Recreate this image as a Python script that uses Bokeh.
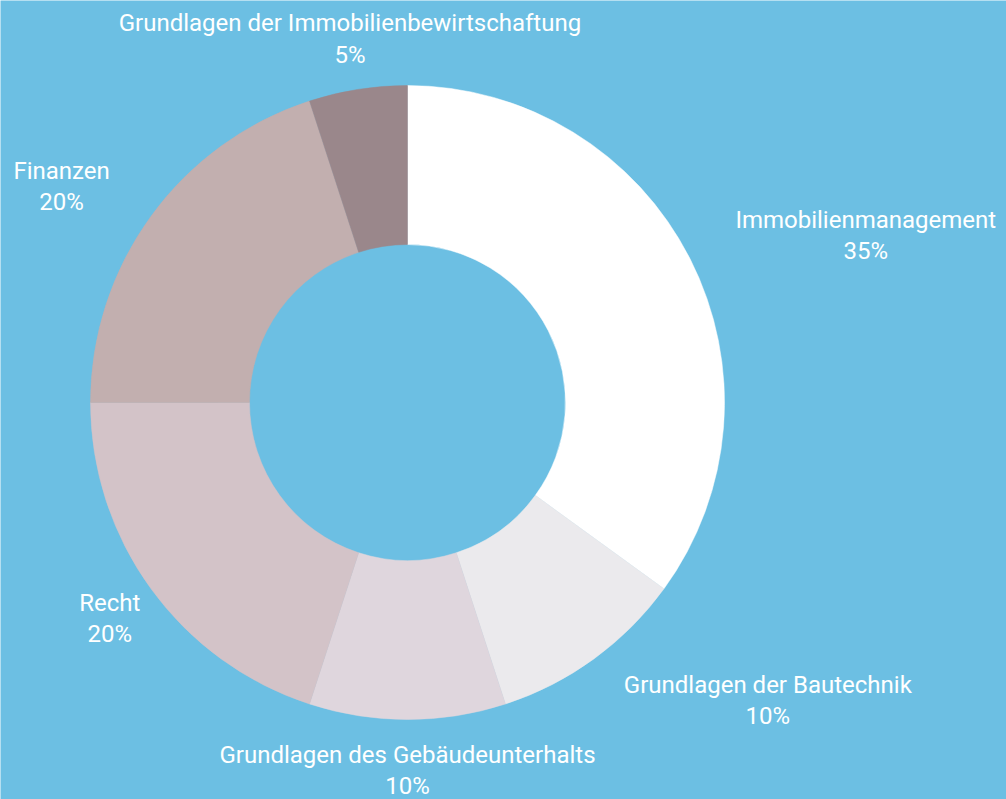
import math
from bokeh.plotting import figure
from bokeh.models import Range1d, ColumnDataSource
from bokeh.core.properties import value
from bokeh.embed import file_html
from bokeh.resources import INLINE

categories = ["Immobilienmanagement", "Grundlagen der Bautechnik", "Grundlagen des Gebäudeunterhalts",
              "Recht", "Finanzen", "Grundlagen der Immobilienbewirtschaftung"]
shares = [35, 10, 10, 20, 20, 5]
colors = ["#FFFFFF", "#EBEAED", "#DFD6DD", "#D3C3C8", "#C2AFAF", "#9A878B"]
label_anchor = ["center_left", "center_left", "center", "center", "center_right", "center"]

W, H = 1006, 799
BG = "#6CBFE3"
cx, cy = 407, H - 402
r_out, r_in, r_lab = 317, 158, 368

total = sum(shares)
starts, ends, lx, ly, labels = [], [], [], [], []
cum = 0
for name, s in zip(categories, shares):
    a0 = math.pi / 2 - 2 * math.pi * cum / total
    cum += s
    a1 = math.pi / 2 - 2 * math.pi * cum / total
    starts.append(a0)
    ends.append(a1)
    mid = (a0 + a1) / 2
    lx.append(cx + r_lab * math.cos(mid))
    ly.append(cy + r_lab * math.sin(mid))
    labels.append(f"{name}\n{s}%")

src = ColumnDataSource(dict(x=[cx] * len(shares), y=[cy] * len(shares), start=starts, end=ends,
                            color=colors, lx=lx, ly=ly, label=labels, anchor=label_anchor))

p = figure(width=W, height=H, output_backend="svg", toolbar_location=None,
           x_range=Range1d(0, W), y_range=Range1d(0, H), min_border=0)
p.axis.visible = False
p.grid.visible = False
p.outline_line_color = None
p.background_fill_color = BG
p.border_fill_color = BG

p.annular_wedge(x="x", y="y", inner_radius=r_in, outer_radius=r_out, start_angle="start", end_angle="end",
                direction="clock", fill_color="color", line_color="color", line_width=0.5, source=src)

p.text(x="lx", y="ly", text="label", anchor="anchor", text_align="center", text_line_height=1.12,
       text_font=value("Roboto"), text_font_size="24px", text_color="white", source=src)

open("out.html", "w").write(file_html(p, INLINE))
